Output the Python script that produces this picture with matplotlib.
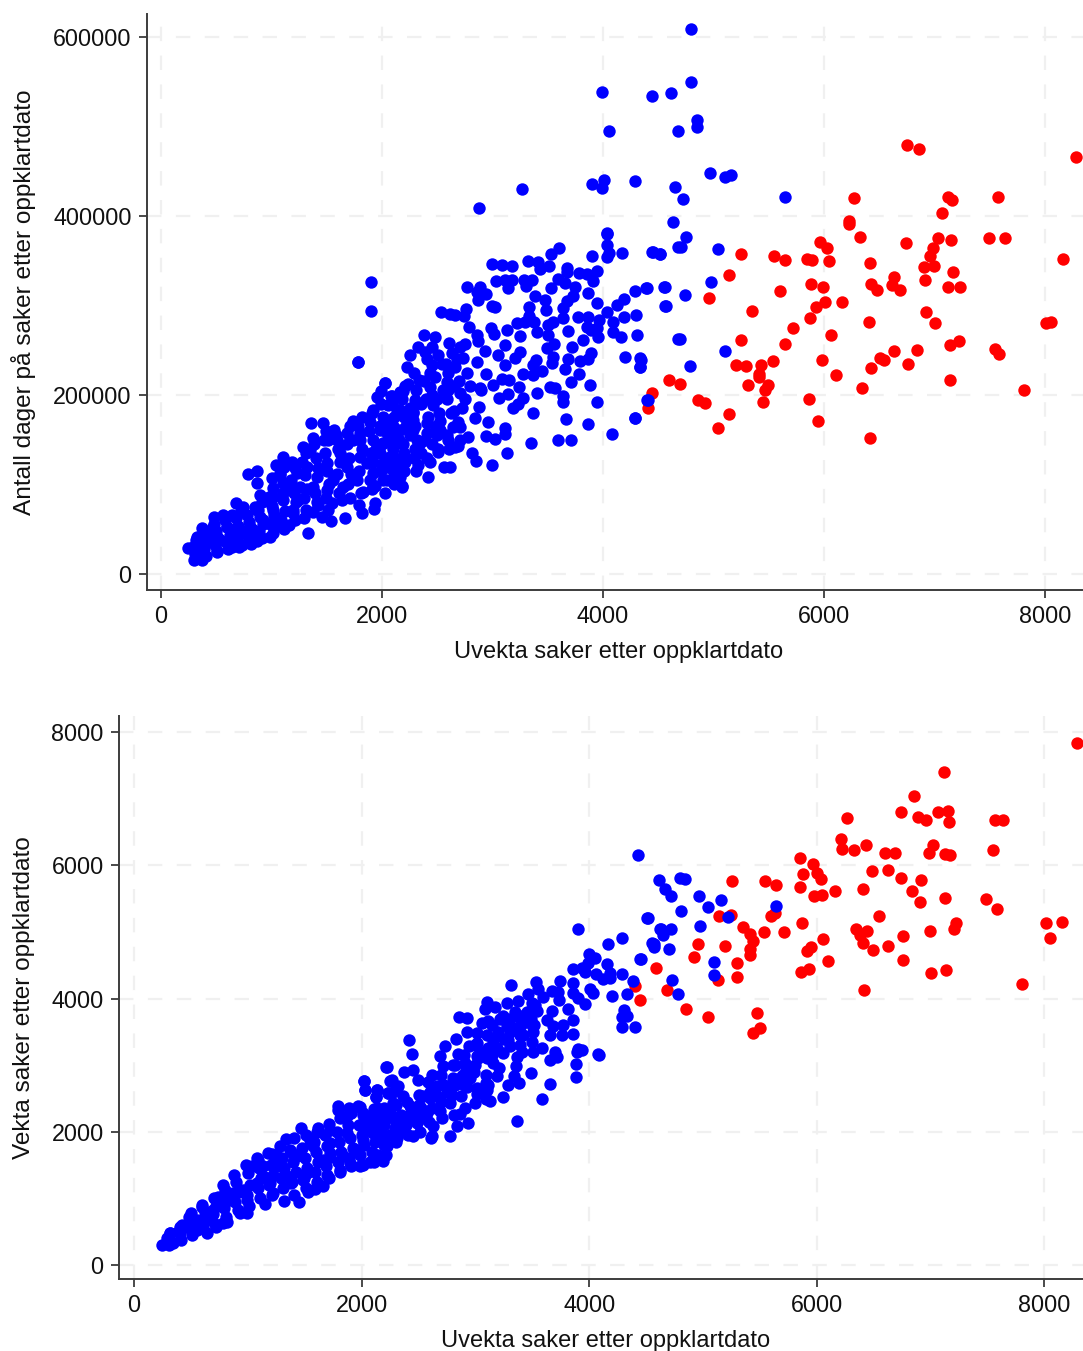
import matplotlib
matplotlib.use("Agg")
import matplotlib.pyplot as plt

plt.rcParams['font.family'] = ['Liberation Sans', 'DejaVu Sans']

top_red_x = [8281,6751,6860,6271,7122,7158,7575,7068,6226,6226,6326,7032,7149,7493,7638,5964,6027,6742,6986,6959,
 6905,6995,5249,5548,5647,5846,5891,6045,6416,8163,5140,7167,6633,6914,5882,5991,6425,6480,6615,6688,
 7122,7231,5602,4959,5928,6009,6163,5348,5873,6407,6923,7005,8009,8054,5719,6063,5249,5647,7140,7222,
 7548,7584,5538,5430,5204,5294,5982,6507,6543,6425,6633,6842,6760,6109,5412,5412,4597,4697,5312,5493,
 5466,7140,7810,4443,6344,4860,4923,5448,5864,5140,5041,5946,6416,4407]
top_red_y = [465800,479200,474700,420000,421100,417800,421100,403200,394300,390900,376400,375300,373100,375300,375300,370800,364100,369700,364100,355200,
 342900,344000,357400,355200,350700,351900,350700,349600,347400,351900,334000,337300,331700,328400,323900,320600,323900,317200,322800,317200,
 320600,320600,316100,308300,298200,303800,303800,293800,285900,281500,292700,280400,280400,281500,274800,267000,261400,256900,255800,260300,
 251300,245700,237900,233500,233500,232300,239000,241300,239000,230100,249100,250200,234600,222300,223400,220000,216700,212200,211100,211100,
 205500,216700,205500,202200,207800,194400,191000,192100,195500,178700,163100,170900,151900,185400]

top_blue_upper_x = [4796,4796,3991,4443,4615,4054,4679,4851,4851,4968,5104,5158,3267,2878,3900,4009,3991,4290,4652,4724,
 5647,4633,4751,4036,4706,5041,4443,4516,4977,4561,4398,4742,4561,4697,4787,5104,4335,4335,4290,4398,1900,1900,1783]
top_blue_upper_y = [608800,549600,538400,534000,537300,494800,494800,507100,499300,447900,443500,445700,430000,408800,435600,440100,431200,439000,432300,418900,
 421100,393200,376400,380900,365300,363000,359700,357400,326200,320600,319500,311600,299400,262500,232300,249100,241300,231200,174300,194400,326200,293800,236800]

top_blue_mid_x = [4040,4034,4058,4034,4169,4456,4516,4682,3605,3533,3898,3318,3409,2999,3089,3177,3515,3433,3672,3678,
 3949,3783,3859,3590,3913,3035,3116,3177,3288,3355,3300,3144,3659,3530,3747,2766,2887,3868,4293,4390,
 4555,2857,2941,3385,3726,2872,4190,3475,3672,3943,4124,4568,2993,3023,2757,2534,2616,2661,2742,3331,
 3481,3641,4040,4299,4193,3331,3219,3294,3379,3551,3506,3641,3771,3868,3967,4094,2790,2984,3128,3853,
 3943,3889,3400,3500,3687,4094,4163,4311,4682,2380,2480,2863,3017,3249,3822,3958,2610,2872,2450,2329,
 2751,3113,3560,3490,3717,2254,2389,2706,2932,3249,3053,2631,3889,2223,2736,3551,4200,4341,4335,3687,
 3792,3868,3394,3204,2857,3113,2450,2540,3536,3370,2661,3656,2941,3279,3370,3451,3780,2772,2435,2338,
 3083,3153,3708,3883,2027,2238,2585,3521,3566,3243,2187,2435,2887,3008,3406,3144,2082,2706,3641,3062,
 3279,2299,2585,3635,3943,4405,3234,3189,2465,2878,2652,2163,2284,3364,2839,3665,4290,3868,2957,2525,
 2404,3113,3113,4079,2781,2941,3023,3346,3590,3708,2691,2661,2812,3128,2848,2999,2561,2616,2419,2329,
 2435,2510,2163,2178,2344,2193,2073,2163,2284,2404,2525,2646,2706,2073,2223,2284,2148,2042,1982,2012,2103,2042,
 2050,2100,2150,2200,2250,2000,2120,1950,2200,2300,2350,2450,2500,2600,2100,2250,2350,2450,2550,2650,2750,2800,2900,2600]
top_blue_mid_y = [379800,367500,358900,354500,358200,359300,357100,364900,363800,357400,355200,349600,348900,345900,345100,344400,344400,340700,341400,337700,
 338800,336200,334700,329900,327300,327300,328400,328400,328400,328400,321700,319100,325400,319100,320900,320900,320900,314200,316100,319800,
 320200,315400,312800,310900,310900,306000,307200,306000,305300,302300,300500,299300,299700,298600,296000,292600,290400,289300,288200,297800,
 294900,296700,292300,289300,287400,288200,280000,281800,281100,281800,278100,285600,286700,286700,283700,281800,275900,274400,272900,276300,
 274400,272500,270700,266900,271400,270700,265100,266600,262500,266600,265100,266900,268100,265800,261400,264300,257600,260200,254000,253200,
 256500,255800,256900,252000,253200,244600,248300,253200,249400,248300,244600,246500,247200,231600,240900,242700,242000,239000,230800,239800,
 238300,239800,239000,240900,237200,233400,233400,234500,235300,233400,230800,229000,223400,223400,222300,227100,223000,224100,224100,216700,
 217800,216700,214800,211100,212900,212200,214800,209200,207400,208500,204800,209200,207400,211100,201800,201000,198800,202500,199200,196200,
 196900,194300,195100,192500,191700,194000,189900,185000,188700,186900,182400,183200,181300,179400,174600,173100,173800,167100,169400,171200,
 168300,163400,156000,156000,152600,154500,150800,146700,149600,149600,143000,142200,134800,134800,125800,121700,119100,119100,107900,121700,
 125400,136600,107900,98200,146700,127300,131000,160800,160800,157100,160800,164500,164500,153400,175700,172000,183100,168300,160800,146700,116100,105000,
 130000,140000,150000,135000,155000,120000,110000,140000,115000,140000,135000,145000,155000,150000,165000,185000,190000,200000,205000,210000,195000,210000,205000,225000]

top_blue_low_x = [247,299,374,329,368,428,504,480,564,640,474,534,640,730,872,987,1038,1159,1328,1294,
 676,745,851,784,872,872,896,1002,1041,1107,1183,1288,1349,1355,1469,1373,1569,1478,1741,1816,
 1892,1922,1952,1988,2027,2088,2058,1780,2163,2133,2073,2027,1937,1931,1816,1795,1665,1536,1454,1379,
 1424,1198,1243,1545,1635,1831,1937,2088,2178,715,806,926,1017,1107,1107,1228,1077,1319,1409,1560,
 1681,1801,1922,2043,2103,1741,1620,1500,1379,1258,1500,1650,1771,1922,2043,2133,1862,1982,1590,1801,
 1681,1168,1017,866,655,594,504,413,353,806]
top_blue_low_y = [28600,15600,15600,41700,51000,38000,26000,64000,66000,66000,52800,38000,30500,32300,36800,41700,53600,54300,46100,62200,
 78900,75200,75200,111300,115400,101300,88200,106900,121700,130300,125500,142200,138500,169000,168300,151500,160800,149700,171300,175000,
 170200,183200,198100,204400,213000,198800,188800,237200,203700,183200,172000,90800,78900,72200,68500,77000,63000,59200,64000,69600,
 77000,67800,82600,78900,82600,92000,98700,105000,97500,49100,52900,60300,71500,82600,101300,112400,112400,119900,108700,105000,
 119900,131100,149700,157100,142200,149700,134800,123600,97500,97500,93800,97500,105000,112400,119900,123600,123600,134800,149700,157100,
 157100,97500,86400,71500,45400,52900,41700,45400,30500,41700]

top_blue_dense_x = [310,290,320, 410,390,420,400, 510,490,520,500,480, 610,590,620,600,580,
 710,690,720,700,680,720, 810,790,820,800,780, 910,890,920,900,880,910,
 1010,990,1020,1000,980,1010, 1110,1090,1120,1100,1080,1110, 1210,1190,1220,1200,1180,1210,
 1310,1290,1320,1300,1280,1310, 1410,1390,1420,1400,1380, 1510,1490,1520,1500,1480,1510,1490,
 1610,1590,1620,1600,1580, 1710,1690,1720,1700,1680,1710, 1810,1790,1820,1800,1780,
 1910,1890,1920,1900,1880,1910, 2010,1990,2020,2000,1980,2010,1990, 2110,2090,2120,2100,2080,2110,2090,
 2210,2190,2220,2200,2180,2210, 2310,2290,2320,2300,2280,2310,2290, 2410,2390,2420,2400,2380,2410,
 2510,2490,2520,2500,2480,2510, 2610,2590,2620,2600,2580, 2710,2690,2720,2700,2680]
top_blue_dense_y = [22000,30000,38000, 20000,28000,36000,44000, 24000,32000,40000,48000,56000, 28000,36000,44000,52000,60000,
 30000,38000,46000,54000,62000,70000, 34000,42000,50000,58000,66000, 40000,48000,56000,64000,72000,80000,
 46000,56000,66000,76000,86000,96000, 50000,60000,70000,90000,110000,120000, 60000,72000,80000,90000,105000,118000,
 72000,85000,95000,110000,125000,135000, 80000,90000,118000,130000,145000, 72000,85000,100000,115000,135000,150000,160000,
 90000,112000,125000,140000,155000, 85000,100000,112000,130000,145000,165000, 90000,115000,140000,150000,165000,
 95000,105000,125000,135000,160000,180000, 105000,115000,125000,145000,165000,175000,190000, 100000,120000,130000,150000,160000,175000,190000,
 125000,145000,165000,175000,195000,210000, 115000,130000,150000,165000,180000,205000,225000, 130000,150000,175000,195000,215000,240000,
 140000,165000,180000,195000,220000,245000, 140000,155000,180000,205000,235000, 150000,170000,185000,215000,240000]

bot_red_x = [8286,7118,6854,6740,6889,6960,7065,7153,7162,7566,7636,6265,6213,6221,6327,6432,6599,6687,7021,6986,
 7127,7170,7548,5852,5967,5879,6002,6037,5642,5545,5255,5852,6160,6046,5975,6485,6626,6740,6916,6406,
 6837,6907,7127,7487,7583,5141,5246,5598,5633,5352,5870,6547,7223,7206,5712,5536,5413,6344,6441,6380,
 6757,6995,8014,8155,8049,5439,4956,5193,6055,5949,5914,6406,6494,6626,5413,4921,5413,5299,6099,6757,
 5861,5932,7004,7135,4587,5299,5132,6415,7803,4684,4402,4446,4851,5044,5475,5501,5439]
bot_red_y = [7836,7400,7039,6798,6723,6678,6798,6813,6648,6678,6678,6708,6392,6242,6227,6302,6182,6182,6302,6182,
 6167,6151,6227,6106,6016,5866,5881,5790,5700,5760,5760,5670,5610,5550,5535,5911,5926,5805,5775,5640,
 5610,5444,5505,5490,5339,5234,5249,5234,5279,5068,5129,5234,5129,5038,4993,4993,4963,5038,5008,4948,
 4933,5008,5129,5144,4903,4858,4813,4783,4888,4768,4708,4828,4723,4783,4738,4617,4647,4527,4557,4572,
 4392,4437,4377,4422,4452,4317,4272,4121,4211,4121,4181,3971,3850,3730,3790,3565,3489]

bot_blue_upper_x = [4429,4613,4798,4842,4666,4719,4965,5044,5158,5220,5642,4508,4807,4631,4649,4719,4569,4974,4701,4446,5097,5097,4728,4780]
bot_blue_upper_y = [6151,5775,5805,5790,5640,5535,5535,5369,5474,5219,5384,5204,5309,5038,4948,5038,4813,5083,4738,4587,4542,4347,4272,4061]

bot_blue_mid_x = [3904,4514,4622,4291,4162,4555,4569,4455,4001,4051,3986,3934,3861,3963,4156,4183,4291,4388,4057,4124,
 4183,3743,3530,3316,3855,3553,3670,3729,3861,4007,4036,3904,3597,3465,3738,3963,4197,4335,3105,3275,
 3371,3494,3084,3172,3538,3670,3817,4309,4285,4329,2856,2929,3114,3055,3245,3392,3626,3861,3518,3773,
 3679,4285,4402,2923,3011,3275,3363,3861,3656,3758,2420,2827,3158,3392,3289,3494,2733,2947,3011,3114,
 3304,3582,3904,3934,3890,3700,3509,4074,4089,2440,2689,2850,3245,3011,3099,3363,3714,3656,2226,3158,
 2909,3357,3884,2821,2718,2376,2455,2982,3486,3187,3881,3339,2616,2270,2021,2499,2879,3093,3386,3289,
 3656,2923,2030,2132,2323,2660,2777,3099,2235,2127,3011,2871,3240,3093,3128,3582,2997,2367,2543,2777,
 2689,2865,2425,2279,2132,2938,3363,2630,2835,2777,2616,2367,2162,2045,2045,2484,2337,2572,2220,2455,
 2100,2150,2200,2250,2300,2350,2400,2450,2500,2550,2600,2650,2700,2750,2800,2900,2950,3000,3050,3150,
 3250,3300,3400,3450,3500,3350,3200,3150,3300,2300,2200]
bot_blue_mid_y = [5049,5214,5039,4908,4813,4838,4778,4598,4673,4613,4538,4462,4437,4397,4512,4377,4362,4267,4362,4287,
 4312,4257,4247,4202,4237,4146,4111,4096,4086,4136,4086,4011,4026,4061,3976,3921,4031,4061,3951,3926,
 3961,3936,3836,3876,3811,3811,3836,3826,3726,3745,3726,3710,3660,3635,3735,3735,3685,3675,3600,3610,
 3595,3570,3570,3500,3485,3585,3560,3470,3460,3460,3384,3394,3384,3460,3384,3349,3294,3294,3334,3259,
 3284,3259,3249,3224,3194,3199,3194,3169,3149,3174,3134,3169,3184,3134,3109,3124,3124,3074,2973,3034,
 3034,2994,3024,3009,2983,2893,2923,2908,2883,2843,2823,2833,2858,2773,2758,2783,2833,2733,2733,2698,
 2723,2673,2633,2623,2683,2683,2633,2623,2582,2522,2567,2532,2522,2492,2467,2492,2432,2532,2532,2432,
 2307,2267,2382,2432,2282,2131,2156,2081,2081,1931,1931,2031,2081,2232,2031,2131,2232,2282,2232,1931,
 2000,1900,2100,1950,2150,2250,2150,2300,2400,2200,2500,2550,2450,2600,2800,2700,2800,3000,3200,3150,
 3400,3500,3600,3800,3600,3800,3500,3600,3700,1850,1800]

bot_blue_low_x = [243,316,404,346,486,595,639,785,741,779,879,1034,1093,1210,1336,1468,1620,1796,1971,2133,
 2021,2030,2133,2127,2214,2250,2235,2250,2220,2147,2191,2074,1986,1810,1693,1658,1591,1526,1450,1318,
 1380,1151,990,932,814,721,1224,1488,404,551,697,844,961,1078,990,1137,1283,1430,1576,1722,
 1869,2015,2103,1957,1840,1664,1517,1342,1195,1722,1869,2015,2162,1898,1547,1371,1254,1137,873,785,
 668,551,463,316,2015,1722]
bot_blue_low_y = [301,477,577,326,727,878,477,627,1028,1194,1354,1479,1580,1670,1890,2056,2056,2382,2382,2357,
 2758,2632,2622,2522,2973,2758,2582,2281,1780,1655,1555,1540,1479,1429,1354,1189,1139,1093,953,963,
 1229,918,778,778,652,577,1078,1279,477,677,828,978,1128,1229,978,1329,1479,1630,1780,1830,
 1981,2131,1981,1730,1630,1580,1379,1329,1229,2031,2231,2281,2181,1530,1880,1730,1630,1479,1078,878,
 677,527,577,352,1880,1680]

bot_blue_dense_x = [310,290,320, 410,390,420, 510,490,520,500, 610,590,620,600, 710,690,720,700, 810,790,820,800,
 910,890,920,900, 1010,990,1020,1000,980, 1110,1090,1120,1100,1080, 1210,1190,1220,1200,1180, 1310,1290,1320,1300,1280,
 1410,1390,1420,1400,1380,1410, 1510,1490,1520,1500,1480,1510, 1610,1590,1620,1600,1580,1610, 1710,1690,1720,1700,1680,1710,
 1810,1790,1820,1800,1780,1810,1790, 1910,1890,1920,1900,1880,1910,1890, 2010,1990,2020,2000,1980,2010,1990, 2110,2090,2120,2100,2080,2110,
 2210,2190,2220,2200, 2310,2290,2320,2300,2280, 2410,2390,2420,2400, 2510,2490,2520,2500, 2610,2590,2620,2600,2580,
 2710,2690,2720,2700, 2810,2790,2820,2800, 2910,2890,2920,2900, 3010,2990,3020,3000, 3110,3090,3120,3100, 3210,3190,3220,
 3410,3390,3420,3400, 3510,3490,3520]
bot_blue_dense_y = [300,400,480, 380,500,600, 450,560,680,780, 560,680,800,900, 620,760,880,1000, 720,860,1000,1130,
 820,950,1100,1250, 880,1050,1200,1380,1500, 1000,1150,1300,1450,1600, 1050,1200,1350,1500,1680, 1150,1300,1450,1600,1780,
 1050,1250,1400,1550,1700,1900, 1150,1300,1450,1600,1750,1950, 1250,1400,1550,1700,1850,2000, 1300,1480,1620,1780,1950,2120,
 1400,1550,1700,1850,2000,2200,2320, 1480,1600,1750,1900,2100,2280,2360, 1500,1650,1800,1950,2100,2250,2370, 1550,1700,1850,2050,2200,2340,
 1650,1950,2200,2350, 1900,2050,2200,2400,2600, 1950,2100,2250,2450, 2000,2200,2350,2550, 1900,2150,2350,2600,2750,
 2200,2500,2700,2850, 2250,2550,2700,3000, 2350,2850,2950,3150, 2650,2900,3100,3300, 2700,2850,3250,3450, 2950,3250,3700,
 3200,3300,3450,3700, 3500,3700,3900]

top_y_ticks = [0, 200000, 400000, 600000]
bot_y_ticks = [0, 2000, 4000, 6000, 8000]
x_ticks = [0, 2000, 4000, 6000, 8000]
x_label = "Uvekta saker etter oppklartdato"
top_y_label = "Antall dager på saker etter oppklartdato"
bot_y_label = "Vekta saker etter oppklartdato"

W, H = 1083, 1351
fig = plt.figure(figsize=(W / 100, H / 100), dpi=100, facecolor="white")


def make_axes(left, right, top, bottom):
    return fig.add_axes([left / W, 1 - bottom / H, (right - left) / W, (bottom - top) / H])


def style(ax, xlim, ylim, yticks, ylabel, ylab_xpx, xlab_cx, xlab_cy, box):
    left, right, top, bottom = box
    ax.set_xlim(*xlim)
    ax.set_ylim(*ylim)
    ax.set_xticks(x_ticks)
    ax.set_yticks(yticks)
    ax.grid(True, color="#f0f0f0", lw=1.6, ls=(0, (6.5, 6.5)), zorder=0)
    ax.set_axisbelow(True)
    for s in ("top", "right"):
        ax.spines[s].set_visible(False)
    for s in ("left", "bottom"):
        ax.spines[s].set_color("#3c3c3c")
        ax.spines[s].set_linewidth(1.4)
    ax.tick_params(length=6, width=1.3, color="#3c3c3c", labelsize=16.8, labelcolor="#111111", pad=5)
    ax.set_xlabel(x_label, fontsize=17.0, color="#111111")
    ax.xaxis.set_label_coords((xlab_cx - left) / (right - left), (bottom - xlab_cy) / (bottom - top), transform=ax.transAxes)
    ax.xaxis.label.set_va("center")
    ax.set_ylabel(ylabel, fontsize=17.6, color="#111111")
    ax.yaxis.set_label_coords((ylab_xpx - left) / (right - left), 0.5, transform=ax.transAxes)
    ax.yaxis.label.set_va("center")


MS = 80
top_box = (147, 1083, 14, 590)
ax1 = make_axes(*top_box)
ax1.scatter(top_red_x, top_red_y, s=MS, c="#ff0000", linewidths=0, zorder=3)
ax1.scatter(top_blue_upper_x + top_blue_mid_x + top_blue_low_x + top_blue_dense_x,
            top_blue_upper_y + top_blue_mid_y + top_blue_low_y + top_blue_dense_y,
            s=MS, c="#0000ff", linewidths=0, zorder=4)
style(ax1, (-127, 8344), (-17900, 625500), top_y_ticks, top_y_label, 24, 619, 652, top_box)
ax1.yaxis.label.set_y((590 - 302) / (590 - 14))

bot_box = (119, 1083, 716, 1279)
ax2 = make_axes(*bot_box)
ax2.scatter(bot_red_x, bot_red_y, s=MS, c="#ff0000", linewidths=0, zorder=3)
ax2.scatter(bot_blue_upper_x + bot_blue_mid_x + bot_blue_low_x + bot_blue_dense_x,
            bot_blue_upper_y + bot_blue_mid_y + bot_blue_low_y + bot_blue_dense_y,
            s=MS, c="#0000ff", linewidths=0, zorder=4)
style(ax2, (-132, 8339), (-210, 8241), bot_y_ticks, bot_y_label, 24, 606, 1341, bot_box)
ax2.yaxis.label.set_y((1279 - 998) / (1279 - 716))

fig.savefig("out.png", dpi=100)
